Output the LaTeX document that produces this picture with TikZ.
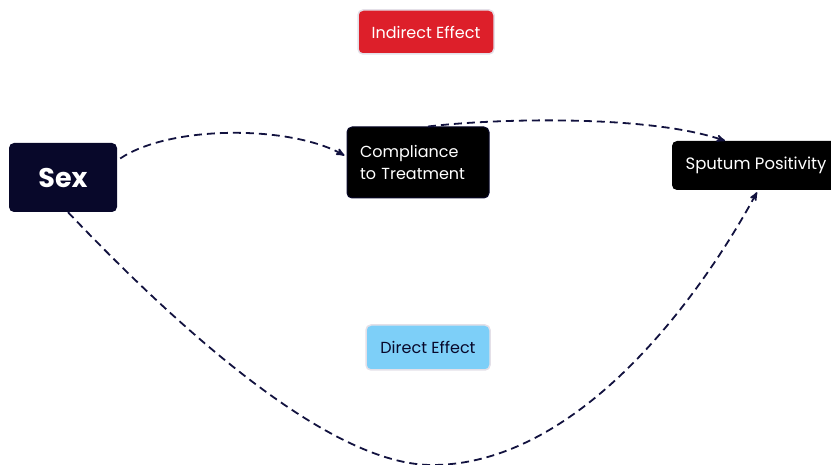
\documentclass[tikz,border=0pt]{standalone}
\usepackage{fontspec}
\setmainfont{Poppins}
\usepackage{xcolor}
\usetikzlibrary{positioning,calc,arrows,arrows.meta}
\definecolor{darknavy}{HTML}{08082A}
\definecolor{edgenavy}{HTML}{12123F}
\definecolor{effectred}{HTML}{DD1F2A}
\definecolor{effectblue}{HTML}{7DCFF8}
\definecolor{paleborder}{HTML}{E4E0E8}

\begin{document}
\begin{tikzpicture}[x=1pt,y=-1pt,>=stealth',
                var node/.style={rectangle,rounded corners=5pt,fill=black,text=white,inner sep=0pt},
                effect node/.style={rectangle,rounded corners=5pt,draw=paleborder,line width=1.5pt,inner sep=0pt,font=\fontsize{16}{19}\selectfont},
                link/.style={->,dashed,dash pattern=on 8pt off 5pt,line width=1.8pt,color=edgenavy}]
\useasboundingbox (0,0) rectangle (831,465);
%Nodes
    \node[var node, fill=darknavy, minimum width=108pt, minimum height=69pt, font=\fontsize{27}{30}\selectfont\bfseries] (sex) at (63,177.5) {Sex};
    \node[var node, draw=darknavy, line width=1pt, minimum width=142pt, minimum height=71pt, text width=116pt, align=left, font=\fontsize{16}{22}\selectfont] (comp) at (418,162.5) {Compliance\\to Treatment};
    \node[var node, minimum width=168pt, minimum height=49pt, font=\fontsize{16.5}{20}\selectfont] (sput) at (756,165.5) {Sputum Positivity};
    \node[effect node, fill=effectred, text=white, minimum width=136pt, minimum height=44pt] (ind) at (426,32) {Indirect Effect};
    \node[effect node, fill=effectblue, text=darknavy, minimum width=124pt, minimum height=45pt] (dir) at (428,347.5) {Direct Effect};
    \coordinate (low) at (432,465);

    \draw[link] ($(sex.east)+(3,-19)$) .. controls (170,125) and (290,125) .. ($(comp.west)+(-2,-7)$);
    \draw[link] ($(comp.north)+(10,0)$) .. controls (500,118) and (650,115) .. ($(sput.north)+(-31,0)$);
    \draw[link] ($(sex.south)+(5,0)$) .. controls (180,330) and (330,465) .. (low)
        .. controls (570,465) and (690,315) .. ($(sput.south)+(1,2)$);
\end{tikzpicture}
\end{document}
